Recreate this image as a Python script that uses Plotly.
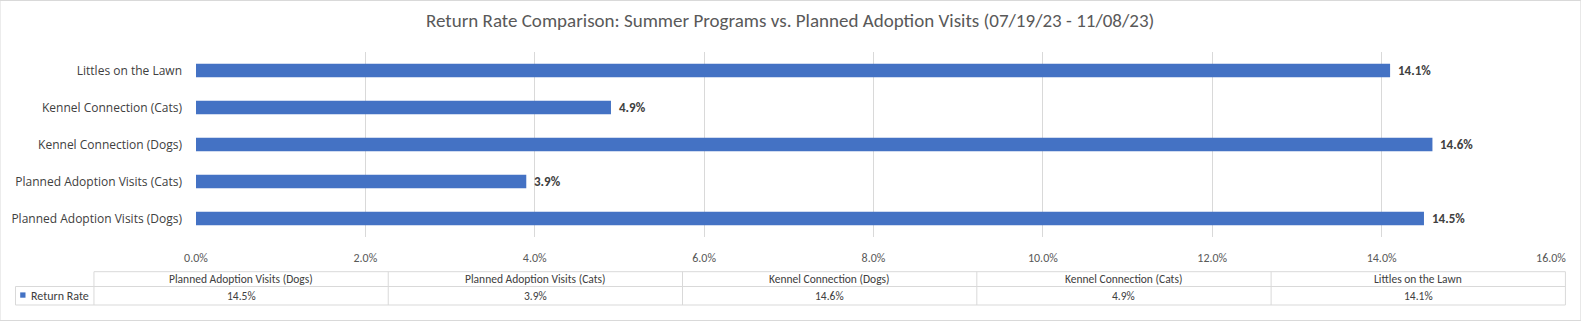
import plotly.graph_objects as go

# ---- data ----
categories = [
    "Planned Adoption Visits (Dogs)",
    "Planned Adoption Visits (Cats)",
    "Kennel Connection (Dogs)",
    "Kennel Connection (Cats)",
    "Littles on the Lawn",
]
return_rate = [0.145, 0.039, 0.146, 0.049, 0.141]
series_name = "Return Rate"
title_text = "Return Rate Comparison: Summer Programs vs. Planned Adoption Visits (07/19/23 - 11/08/23)"
x_ticks = [0.0, 0.02, 0.04, 0.06, 0.08, 0.10, 0.12, 0.14, 0.16]

# ---- style / layout constants ----
W, H = 1581, 321
L, R, T, B = 196.4, 1550.6, 52, 237
FONT = "Carlito, Calibri, Lato, 'Liberation Sans', sans-serif"
CAT_FONT = "'Open Sans', Lato, sans-serif"
BAR = "#4472C4"
GRID = "#D9D9D9"
TXT = "#595959"
DARK = "#404040"


def px(x):
    return (x - L) / (R - L)


def py(y):
    return (B - y) / (B - T)


fig = go.Figure()
fig.add_trace(go.Bar(
    y=categories, x=return_rate, orientation="h",
    marker=dict(color=BAR, line=dict(width=0)),
    name=series_name, showlegend=False, hoverinfo="x+y",
))

annotations = []
# data labels
for c, v in zip(categories, return_rate):
    annotations.append(dict(
        x=v, y=c, xref="x", yref="y", text=f"<b>{v*100:.1f}%</b>",
        showarrow=False, xanchor="left", yanchor="middle", xshift=6,
        font=dict(family=FONT, size=13, color=DARK),
    ))

# title
annotations.append(dict(
    x=px(790.5), y=py(21), xref="paper", yref="paper", text=title_text,
    showarrow=False, xanchor="center", yanchor="middle",
    font=dict(family=FONT, size=19, color=TXT),
))

shapes = []
# outer chart border
shapes.append(dict(type="rect", xref="paper", yref="paper",
                   x0=px(0.5), x1=px(1580.5), y0=py(0.5), y1=py(320.5),
                   line=dict(color=GRID, width=1), layer="below"))

# data table
t_left, t_legend_left, t_right = 94.4, 16.0, 1565.0
t_top, t_mid, t_bot = 271.7, 286.5, 305.0
ncol = len(categories)
colw = (t_right - t_left) / ncol
line = dict(color=GRID, width=1)
shapes.append(dict(type="line", xref="paper", yref="paper", x0=px(t_left), x1=px(t_right), y0=py(t_top), y1=py(t_top), line=line))
shapes.append(dict(type="line", xref="paper", yref="paper", x0=px(t_legend_left), x1=px(t_right), y0=py(t_mid), y1=py(t_mid), line=line))
shapes.append(dict(type="line", xref="paper", yref="paper", x0=px(t_legend_left), x1=px(t_right), y0=py(t_bot), y1=py(t_bot), line=line))
shapes.append(dict(type="line", xref="paper", yref="paper", x0=px(t_legend_left), x1=px(t_legend_left), y0=py(t_mid), y1=py(t_bot), line=line))
for i in range(ncol + 1):
    xx = t_left + i * colw
    shapes.append(dict(type="line", xref="paper", yref="paper", x0=px(xx), x1=px(xx), y0=py(t_top), y1=py(t_bot), line=line))

for i, (c, v) in enumerate(zip(categories, return_rate)):
    cx = t_left + (i + 0.5) * colw
    annotations.append(dict(x=px(cx), y=py((t_top + t_mid) / 2), xref="paper", yref="paper",
                            text=c, showarrow=False, xanchor="center", yanchor="middle",
                            font=dict(family=FONT, size=11.5, color=DARK)))
    annotations.append(dict(x=px(cx), y=py((t_mid + t_bot) / 2), xref="paper", yref="paper",
                            text=f"{v*100:.1f}%", showarrow=False, xanchor="center", yanchor="middle",
                            font=dict(family=FONT, size=11.5, color=DARK)))

# legend key in the table
shapes.append(dict(type="rect", xref="paper", yref="paper",
                   x0=px(20.7), x1=px(26.0), y0=py(297.7), y1=py(292.4),
                   fillcolor=BAR, line=dict(width=0)))
annotations.append(dict(x=px(29.5), y=py(295.5), xref="paper", yref="paper",
                        text=series_name, showarrow=False, xanchor="left", yanchor="middle",
                        font=dict(family=FONT, size=12, color=DARK)))

fig.update_layout(
    width=W, height=H,
    margin=dict(l=L, r=W - R, t=T, b=H - B, pad=0),
    paper_bgcolor="white", plot_bgcolor="white",
    bargap=0.635,
    showlegend=False,
    xaxis=dict(range=[0, 0.16], tickvals=x_ticks, tickformat=".1%",
               showgrid=True, gridcolor=GRID, gridwidth=1,
               zeroline=False, showline=False, ticks="",
               ticklabelstandoff=12,
               tickfont=dict(family=FONT, size=12, color=TXT), fixedrange=True),
    yaxis=dict(categoryorder="array", categoryarray=categories,
               range=[-0.5, len(categories) - 0.5],
               showgrid=False, zeroline=False, showline=False, ticks="",
               ticklabelstandoff=13,
               tickfont=dict(family=CAT_FONT, size=12, color=DARK), fixedrange=True),
    annotations=annotations,
    shapes=shapes,
)

fig.write_html("out.html")
